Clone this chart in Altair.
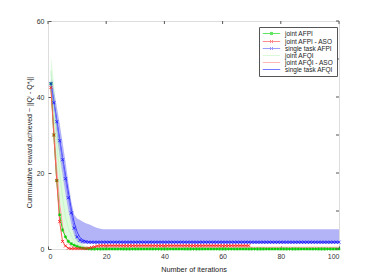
import altair as alt
import pandas as pd

# ---------------- data ----------------
names = ["joint AFPI", "joint AFPI - ASO", "single task AFPI",
         "joint AFQI", "joint AFQI - ASO", "single task AFQI"]
colors = ["#22dd22", "#ff5c5c", "#7070ff", "#c8f8c8", "#ff9c9c", "#3f3fff"]

iters = list(range(1, 101))
short_it = [1, 2, 3, 4, 5, 6, 7, 8, 9, 10,
            11, 12, 13, 14, 15, 16, 17, 18, 19, 20, 100]

single_afpi = [43.5, 38.5, 33.5, 28.5, 23.5, 18.5, 13.5, 9.5, 5.5, 3.2,
               2.3, 2.0, 1.9, 1.8, 1.8, 1.8, 1.8, 1.8, 1.8, 1.8,
               1.8, 1.8, 1.8, 1.8, 1.8, 1.8, 1.8, 1.8, 1.8, 1.8,
               1.8, 1.8, 1.8, 1.8, 1.8, 1.8, 1.8, 1.8, 1.8, 1.8,
               1.8, 1.8, 1.8, 1.8, 1.8, 1.8, 1.8, 1.8, 1.8, 1.8,
               1.8, 1.8, 1.8, 1.8, 1.8, 1.8, 1.8, 1.8, 1.8, 1.8,
               1.8, 1.8, 1.8, 1.8, 1.8, 1.8, 1.8, 1.8, 1.8, 1.8,
               1.8, 1.8, 1.8, 1.8, 1.8, 1.8, 1.8, 1.8, 1.8, 1.8,
               1.8, 1.8, 1.8, 1.8, 1.8, 1.8, 1.8, 1.8, 1.8, 1.8,
               1.8, 1.8, 1.8, 1.8, 1.8, 1.8, 1.8, 1.8, 1.8, 1.8]

joint_afpi = [43.5, 30.0, 18.0, 9.0, 5.0, 3.2, 2.0, 1.4, 1.0, 0.7,
              0.4, 0.2, 0.1, 0.05, 0.0, 0.0, 0.0, 0.0, 0.0, 0.0,
              0.0, 0.0, 0.0, 0.0, 0.0, 0.0, 0.0, 0.0, 0.0, 0.0,
              0.0, 0.0, 0.0, 0.0, 0.0, 0.0, 0.0, 0.0, 0.0, 0.0,
              0.0, 0.0, 0.0, 0.0, 0.0, 0.0, 0.0, 0.0, 0.0, 0.0,
              0.0, 0.0, 0.0, 0.0, 0.0, 0.0, 0.0, 0.0, 0.0, 0.0,
              0.0, 0.0, 0.0, 0.0, 0.0, 0.0, 0.0, 0.0, 0.0, 0.0,
              0.0, 0.0, 0.0, 0.0, 0.0, 0.0, 0.0, 0.0, 0.0, 0.0,
              0.0, 0.0, 0.0, 0.0, 0.0, 0.0, 0.0, 0.0, 0.0, 0.0,
              0.0, 0.0, 0.0, 0.0, 0.0, 0.0, 0.0, 0.0, 0.0, 0.0]

joint_afpi_aso = [42.5, 30.0, 18.0, 7.2, 2.0, 0.8, 0.2, 0.1, 0.1, 0.1,
                  0.1, 0.1, 0.1, 0.2, 0.4, 0.6, 0.8, 0.9, 0.9, 0.9,
                  0.9, 0.9, 0.9, 0.9, 0.9, 0.9, 0.9, 0.9, 0.9, 0.9,
                  0.9, 0.9, 0.9, 0.9, 0.9, 0.9, 0.9, 0.9, 0.9, 0.9,
                  0.9, 0.9, 0.9, 0.9, 0.9, 0.9, 0.9, 0.9, 0.9, 0.9,
                  0.9, 0.9, 0.9, 0.9, 0.9, 0.9, 0.9, 0.9, 0.9, 0.9,
                  0.9, 0.9, 0.9, 0.9, 0.9, 0.9, 0.9, 0.9, 0.9]

joint_afqi = [47.0, 37.5, 28.0, 20.0, 13.5, 8.5, 5.5, 3.5, 2.2, 1.4,
              0.9, 0.6, 0.4, 0.3, 0.2, 0.2, 0.1, 0.1, 0.1, 0.1, 0.1]
joint_afqi_hi = [51.0, 44.0, 35.0, 27.0, 20.0, 14.5, 10.0, 6.5, 4.2, 2.8,
                 1.8, 1.2, 0.8, 0.6, 0.4, 0.3, 0.2, 0.2, 0.2, 0.2, 0.2]
joint_afqi_lo = [43.0, 31.0, 21.0, 13.0, 7.0, 3.5, 2.0, 1.0, 0.5, 0.3,
                 0.1, 0.0, 0.0, 0.0, 0.0, 0.0, 0.0, 0.0, 0.0, 0.0, 0.0]
joint_afqi_aso = [42.5, 32.0, 21.0, 12.0, 6.0, 3.0, 1.5, 0.8, 0.5, 0.4,
                  0.4, 0.45, 0.45, 0.45, 0.45, 0.45, 0.45, 0.45, 0.45, 0.45, 0.45]
single_afqi = [44.0, 39.0, 34.0, 29.0, 24.0, 19.5, 15.0, 10.5, 7.0, 4.5,
               3.0, 2.4, 2.1, 1.9, 1.8, 1.8, 1.8, 1.8, 1.8, 1.8, 1.8]
single_afqi_hi = [46.5, 42.0, 37.5, 33.0, 28.0, 23.0, 17.5, 12.5, 9.0, 8.0,
                  7.6, 7.2, 6.8, 6.5, 6.2, 5.8, 5.5, 5.3, 5.2, 5.2, 5.2]
single_afqi_lo = [41.0, 35.5, 30.0, 24.5, 19.5, 14.5, 10.0, 6.5, 3.5, 2.0,
                  1.5, 1.4, 1.4, 1.4, 1.4, 1.4, 1.4, 1.4, 1.4, 1.4, 1.4]

x_ticks = [0, 20, 40, 60, 80, 100]
y_ticks = [0, 10, 20, 30, 40, 50, 60]

# ---------------- tables ----------------
def frame(name, xs, ys):
    return pd.DataFrame({"it": xs[:len(ys)], "val": ys, "series": name})

marker_df = pd.concat([
    frame("joint AFPI", iters, joint_afpi),
    frame("joint AFPI - ASO", iters, joint_afpi_aso),
    frame("single task AFPI", iters, single_afpi),
])
light_df = pd.concat([
    frame("joint AFQI", short_it, joint_afqi),
    frame("joint AFQI - ASO", short_it, joint_afqi_aso),
    frame("single task AFQI", short_it, single_afqi),
])
band_blue = pd.DataFrame({"it": short_it, "lo": single_afqi_lo, "hi": single_afqi_hi})
band_green = pd.DataFrame({"it": short_it, "lo": joint_afqi_lo, "hi": joint_afqi_hi})
xt_df = pd.DataFrame({"t": x_ticks})
yt_df = pd.DataFrame({"t": y_ticks})

FONT = "Liberation Sans"
W, H = 291, 228

xs = alt.Scale(domain=[0, 100], nice=False, zero=False)
ys = alt.Scale(domain=[0, 60], nice=False)
X = alt.X("it:Q", scale=xs,
          axis=alt.Axis(values=x_ticks, title="Number of iterations", grid=False,
                        domain=False, offset=-3, tickSize=3, tickColor="#555",
                        labelPadding=3, labelFontSize=7, labelColor="#333",
                        labelFont=FONT, titleFont=FONT, titleFontSize=7.3,
                        titleFontWeight="normal", titleColor="#222", titlePadding=6))
Y_axis = alt.Axis(values=y_ticks, title="Cummulative reward achieved ~ ||Qⁱ - Q*ᵢ||",
                  grid=False, domain=False, offset=-3, tickSize=3, tickColor="#555",
                  labelPadding=4, labelFontSize=7, labelColor="#333", labelFont=FONT,
                  titleFont=FONT, titleFontSize=7.0, titleFontWeight="normal",
                  titleColor="#222", titleX=-22, titleY=121, titleBaseline="middle")

cross = "M-1,-1L1,1M-1,1L1,-1"
star = "M-1,0H1M0,-1V1M-0.7,-0.7L0.7,0.7M-0.7,0.7L0.7,-0.7"
leg_line_x = "M-2.9,0H2.9M-0.5,-0.5L0.5,0.5M-0.5,0.5L0.5,-0.5"
leg_line_s = "M-2.9,0H2.9M0,-0.55V0.55M-0.5,-0.5L0.5,0.5M-0.5,0.5L0.5,-0.5"
leg_line = "M-2.9,0H2.9"
shapes = [leg_line_s, leg_line_x, leg_line_x, leg_line, leg_line, leg_line]

leg = alt.Legend(title=None, orient="none", legendX=211, legendY=6,
                 fillColor="white", strokeColor="#555", padding=3, rowPadding=0,
                 symbolSize=36, symbolStrokeWidth=1, symbolOffset=6,
                 labelOffset=10, labelFontSize=6.5, labelFont=FONT, labelColor="#222")
color = alt.Color("series:N", scale=alt.Scale(domain=names, range=colors), legend=leg)

blue_band = alt.Chart(band_blue).mark_area(color="#6868f0", opacity=0.5).encode(
    x=X, y=alt.Y("hi:Q", scale=ys, axis=Y_axis), y2="lo:Q")
green_band = alt.Chart(band_green).mark_area(color="#99f099", opacity=0.3).encode(
    x=X, y=alt.Y("hi:Q", scale=ys), y2="lo:Q")

light_lines = alt.Chart(light_df).mark_line(strokeWidth=1).encode(
    x=X, y=alt.Y("val:Q", scale=ys), color=color, detail="series:N")
marker_lines = alt.Chart(marker_df).mark_line(strokeWidth=1).encode(
    x=X, y=alt.Y("val:Q", scale=ys), color=color, detail="series:N")

def pts(name, shape, col, size):
    return alt.Chart(marker_df).transform_filter(
        alt.datum.series == name).mark_point(
        shape=shape, filled=False, size=size, strokeWidth=0.8, color=col, opacity=1).encode(
        x=X, y=alt.Y("val:Q", scale=ys))

# inward ticks on the right and top edges of the box (MATLAB style)
right_ticks = alt.Chart(yt_df).mark_rule(color="#555", strokeWidth=1).encode(
    y=alt.Y("t:Q", scale=ys), x=alt.value(W - 3), x2=alt.value(W))
top_ticks = alt.Chart(xt_df).mark_rule(color="#555", strokeWidth=1).encode(
    x=alt.X("t:Q", scale=xs), y=alt.value(0), y2=alt.value(3))

legend_layer = alt.Chart(marker_df).transform_filter("false").mark_point(filled=False).encode(
    color=color,
    shape=alt.Shape("series:N", scale=alt.Scale(domain=names, range=shapes), legend=leg))

chart = alt.layer(
    blue_band, green_band, light_lines, marker_lines,
    pts("joint AFPI", star, "#00cc00", 10),
    pts("joint AFPI - ASO", cross, "#ff1010", 9),
    pts("single task AFPI", cross, "#1010ff", 9),
    right_ticks, top_ticks,
    legend_layer,
).properties(
    width=W, height=H,
    autosize=alt.AutoSizeParams(type="none"),
    padding={"left": 40, "top": 13, "right": 27, "bottom": 23},
).configure_view(stroke="#888", strokeWidth=0.8).configure(background="white")

chart.save("out.html", embed_options={"renderer": "svg", "actions": False})
